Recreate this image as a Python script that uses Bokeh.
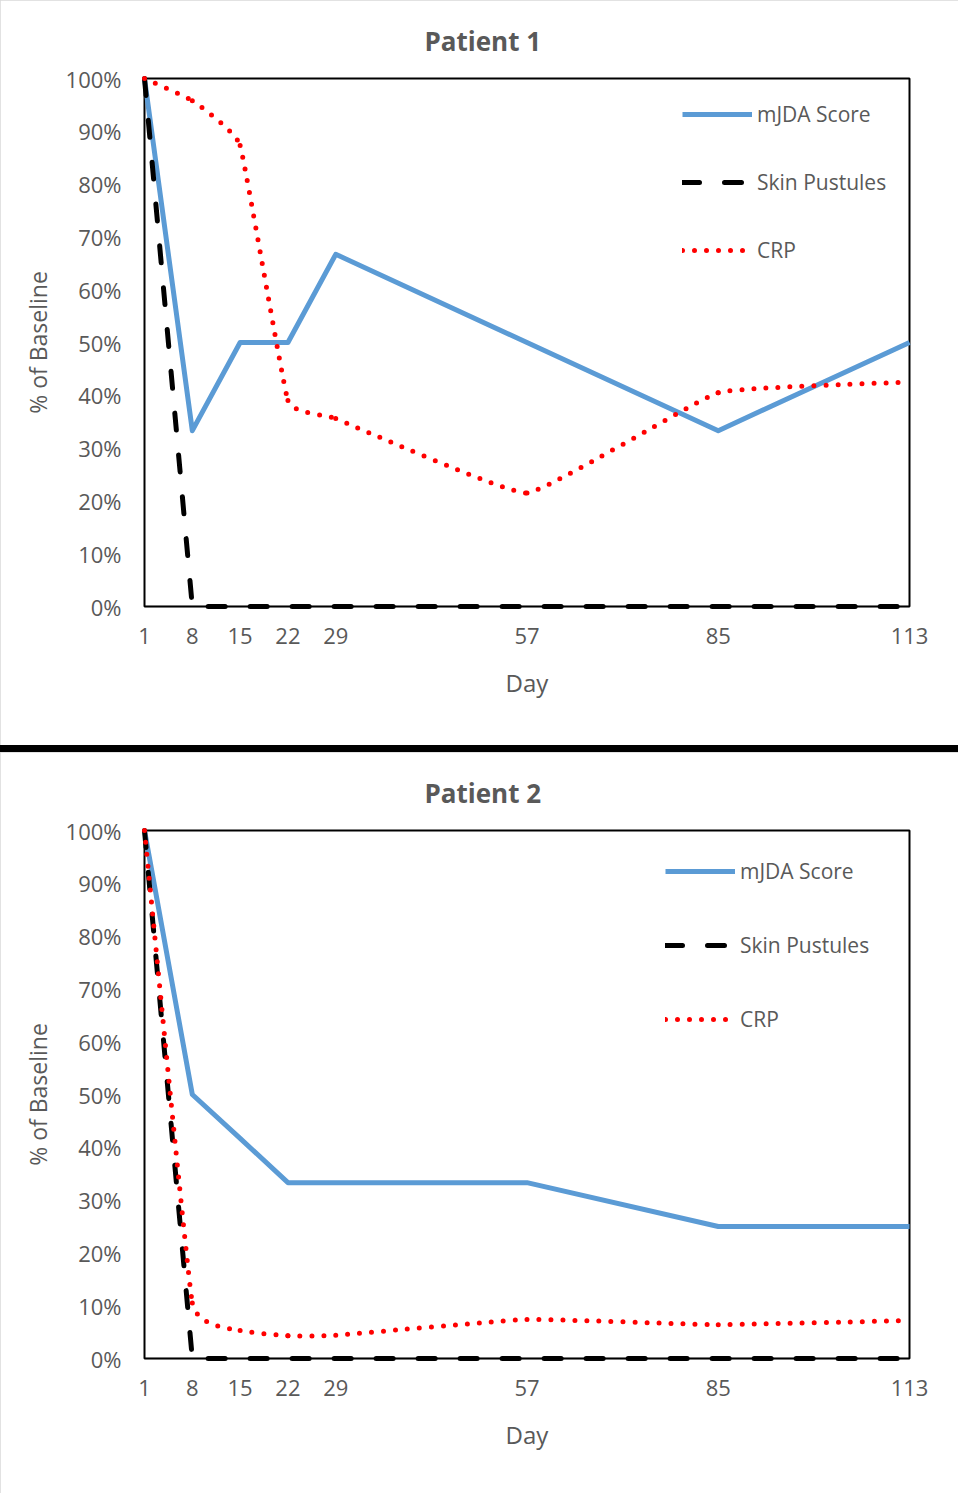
import math
from bokeh.plotting import figure
from bokeh.models import (Range1d, FixedTicker, PrintfTickFormatter, Legend,
                          LegendItem, Div, BoxAnnotation)
from bokeh.layouts import column
from bokeh.embed import file_html
from bokeh.resources import INLINE

# ---------------- data ----------------
days = [1, 8, 15, 22, 29, 57, 85, 113]
pct_ticks = [0, 10, 20, 30, 40, 50, 60, 70, 80, 90, 100]

p1_mjda = [100, 33.3, 50, 50, 66.7, 50, 33.3, 50]
p1_skin = [100, 0, 0, 0, 0, 0, 0, 0]
p1_crp = [100, 95.8, 87.3, 39.0, 35.6, 21.5, 40.5, 42.5]

p2_mjda = [100, 50, 41.7, 33.3, 33.3, 33.3, 25, 25]
p2_skin = [100, 0, 0, 0, 0, 0, 0, 0]
p2_crp = [100, 10.5, 5.3, 4.3, 4.4, 7.4, 6.4, 7.2]

series_names = ["mJDA Score", "Skin Pustules", "CRP"]
titles = ["Patient 1", "Patient 2"]

# ---------------- style ----------------
FONT = "Open Sans"
TXT = "#595959"
BLUE = "#5B9BD5"
AREA_W = 765          # pixel width of day 1 .. day 113
AREA_H = 528          # pixel height of 0% .. 100%
PAD = 6               # frame padding so edge lines are not clipped
FIG_W = 958
SX = AREA_W / (days[-1] - days[0])
SY = AREA_H / 100.0


def smooth_controls(xs, ys, sx, sy, f=0.05):
    """Bezier control points for a lightly smoothed line (pixel space)."""
    P = [(x * sx, y * sy) for x, y in zip(xs, ys)]
    n = len(P)
    out = {k: [] for k in ("x0", "y0", "x1", "y1", "cx0", "cy0", "cx1", "cy1")}

    def d(a, b):
        return math.hypot(a[0] - b[0], a[1] - b[1])

    for i in range(n - 1):
        p0 = P[i - 1] if i > 0 else P[i]
        p1 = P[i]
        p2 = P[i + 1]
        p3 = P[i + 2] if i + 2 < n else P[i + 1]
        d12, d02, d13 = d(p1, p2), d(p0, p2), d(p1, p3)
        f1 = f if d02 * f < d12 / 2 else (d12 / (2 * d02) if d02 > 0 else 0)
        f2 = f if d13 * f < d12 / 2 else (d12 / (2 * d13) if d13 > 0 else 0)
        c1 = (p1[0] + f1 * (p2[0] - p0[0]), p1[1] + f1 * (p2[1] - p0[1]))
        c2 = (p2[0] - f2 * (p3[0] - p1[0]), p2[1] - f2 * (p3[1] - p1[1]))
        out["x0"].append(p1[0] / sx); out["y0"].append(p1[1] / sy)
        out["x1"].append(p2[0] / sx); out["y1"].append(p2[1] / sy)
        out["cx0"].append(c1[0] / sx); out["cy0"].append(c1[1] / sy)
        out["cx1"].append(c2[0] / sx); out["cy1"].append(c2[1] / sy)
    return out


def make_chart(title, mjda, skin, crp, height, top, leg_loc, leg_spacing):
    frame_h = AREA_H + 2 * PAD
    frame_w = AREA_W + 2 * PAD
    p = figure(width=FIG_W, height=height, title=title,
               x_range=Range1d(days[0] - PAD / SX, days[-1] + PAD / SX),
               y_range=Range1d(pct_ticks[0] - PAD / SY, pct_ticks[-1] + PAD / SY),
               output_backend="svg", toolbar_location=None,
               min_border_left=138, min_border_right=FIG_W - 138 - frame_w,
               min_border_top=top, min_border_bottom=height - top - frame_h,
               styles={"outline": "3px solid #d9d9d9", "outline-offset": "-3px"})

    p.title.align = "left"
    p.title.offset = 286
    p.title.standoff = 28
    p.title.text_font = FONT
    p.title.text_font_size = "26px"
    p.title.text_font_style = "bold"
    p.title.text_color = TXT

    p.xgrid.visible = False
    p.ygrid.visible = False
    p.outline_line_color = None
    p.background_fill_color = "white"
    p.border_fill_color = "white"

    # plot-area border (black) and horizontal axis line (grey)
    p.add_layout(BoxAnnotation(left=days[0], right=days[-1],
                               bottom=pct_ticks[0], top=pct_ticks[-1],
                               fill_alpha=0, line_color="black", line_alpha=1,
                               line_width=2, level="underlay"))
    p.segment(x0=[days[0]], y0=[pct_ticks[0]], x1=[days[-1]], y1=[pct_ticks[0]],
              line_color="#D9D9D9", line_width=2, level="underlay")

    xa = p.xaxis[0]
    xa.ticker = FixedTicker(ticks=days)
    xa.axis_line_color = None
    xa.major_tick_line_color = None
    xa.minor_tick_line_color = None
    xa.major_tick_out = 0
    xa.major_label_standoff = 15
    xa.major_label_text_font = FONT
    xa.major_label_text_font_size = "22px"
    xa.major_label_text_color = TXT
    xa.axis_label = "Day"
    xa.axis_label_standoff = 19
    xa.axis_label_text_font = FONT
    xa.axis_label_text_font_size = "24px"
    xa.axis_label_text_font_style = "normal"
    xa.axis_label_text_color = TXT

    ya = p.yaxis[0]
    ya.ticker = FixedTicker(ticks=pct_ticks)
    ya.formatter = PrintfTickFormatter(format="%d%%")
    ya.axis_line_color = None
    ya.major_tick_line_color = None
    ya.minor_tick_line_color = None
    ya.major_tick_out = 0
    ya.major_label_standoff = 17
    ya.major_label_text_font = FONT
    ya.major_label_text_font_size = "22px"
    ya.major_label_text_color = TXT
    ya.axis_label = "% of Baseline"
    ya.axis_label_standoff = 9
    ya.axis_label_text_font = FONT
    ya.axis_label_text_font_size = "23px"
    ya.axis_label_text_font_style = "normal"
    ya.axis_label_text_color = TXT

    r1 = p.line(days, mjda, line_color=BLUE, line_width=5, line_join="round")
    r2 = p.line(days, skin, line_color="black", line_width=5,
                line_dash="17 25", line_cap="round", line_join="round")
    bz = smooth_controls(days, crp, SX, SY)
    r3 = p.bezier(x0=bz["x0"], y0=bz["y0"], x1=bz["x1"], y1=bz["y1"],
                  cx0=bz["cx0"], cy0=bz["cy0"], cx1=bz["cx1"], cy1=bz["cy1"],
                  line_color="red", line_width=5, line_dash="0 12",
                  line_cap="round")

    legend = Legend(items=[LegendItem(label=series_names[0], renderers=[r1]),
                           LegendItem(label=series_names[1], renderers=[r2]),
                           LegendItem(label=series_names[2], renderers=[r3])],
                    location=leg_loc, glyph_width=70, glyph_height=28,
                    label_height=28, spacing=leg_spacing, padding=0, margin=0,
                    label_standoff=5, border_line_color=None,
                    background_fill_alpha=0,
                    label_text_font=FONT, label_text_font_size="21px",
                    label_text_color=TXT)
    p.add_layout(legend)
    return p


fig1 = make_chart(titles[0], p1_mjda, p1_skin, p1_crp, height=745, top=72,
                  leg_loc=(544, 348), leg_spacing=40)
sep = Div(text="", width=FIG_W, height=7, margin=(0, 0, 0, 0),
          styles={"background-color": "black"})
fig2 = make_chart(titles[1], p2_mjda, p2_skin, p2_crp, height=741, top=72,
                  leg_loc=(527, 331), leg_spacing=46)

layout = column(fig1, sep, fig2)
open("out.html", "w").write(file_html(layout, INLINE))
